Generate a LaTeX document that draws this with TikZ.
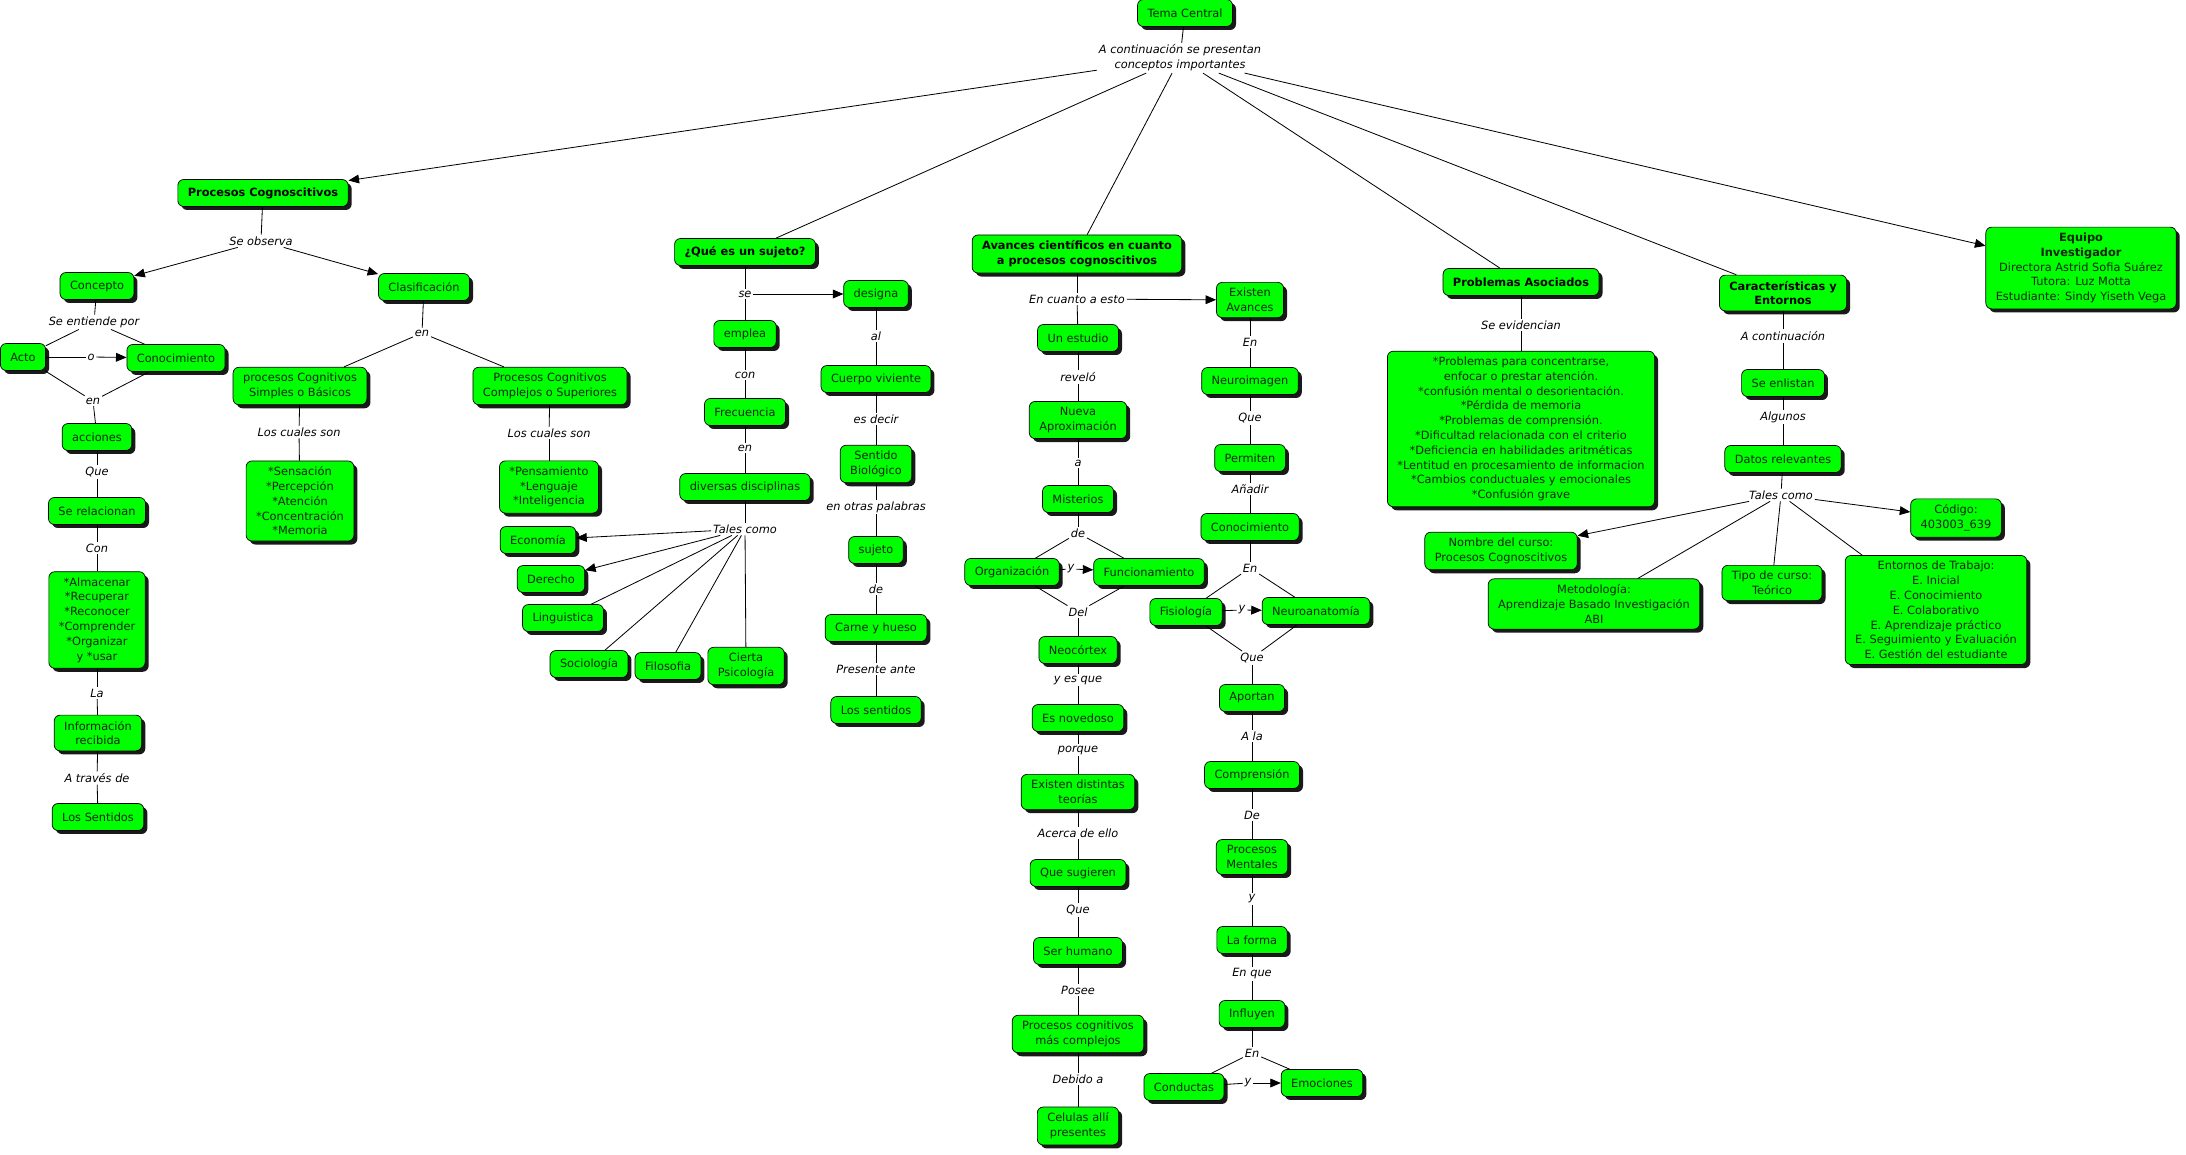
\documentclass[tikz,border=0pt]{standalone}
\usepackage{fontspec}
\setmainfont{DejaVu Sans}
\usetikzlibrary{arrows.meta,shadows}
\definecolor{cmgreen}{HTML}{00FF00}
\definecolor{ink}{HTML}{0D260D}
\tikzset{
  >={Triangle[length=9pt,width=7.5pt]},
  every node/.style={font=\fontsize{9.7}{12.6}\selectfont},
  concept/.style={draw=black,line width=0.6pt,rounded corners=5pt,fill=cmgreen,text=ink,align=center,inner xsep=8.5pt,inner ysep=5pt,minimum height=23pt,drop shadow={shadow xshift=3pt,shadow yshift=-3pt,fill=black!90,opacity=1}},
  topic/.style={concept,font=\fontsize{9.7}{12.6}\selectfont\bfseries,text=black},
  lphrase/.style={font=\fontsize{9.7}{12.6}\selectfont\itshape,text=black,align=center,inner sep=1.5pt},
  conn/.style={draw=black,line width=0.7pt},
  arr/.style={conn,->},
}

\begin{document}
\begin{tikzpicture}[x=0.03cm,y=-0.03cm]
\useasboundingbox (0,0) rectangle (2186,1155);

% top
\node[concept] (tema) at (1185,13) {Tema Central};
\node[lphrase] (lpTema) at (1180,58) {A continuación se presentan\\conceptos importantes};

% procesos cognoscitivos
\node[topic] (procog) at (263,193) {Procesos Cognoscitivos};
\node[lphrase] (lpObs) at (261,241) {Se observa};
\node[concept] (concepto) at (97,286) {Concepto};
\node[concept] (clasif) at (424,287) {Clasificación};
\node[lphrase] (lpEnt) at (94,322) {Se entiende por};
\node[concept] (acto) at (23,357) {Acto};
\node[concept] (conoc) at (176,358) {Conocimiento};
\node[lphrase] (lpO) at (91,357) {o};
\node[lphrase] (lpEn1) at (93,401) {en};
\node[concept] (acciones) at (97,437) {acciones};
\node[lphrase] (lpQue1) at (97,472) {Que};
\node[concept] (serel) at (97,511) {Se relacionan};
\node[lphrase] (lpCon) at (97,548) {Con};
\node[concept] (almac) at (97,620) {*Almacenar\\*Recuperar\\*Reconocer\\*Comprender\\*Organizar\\y *usar};
\node[lphrase] (lpLa) at (97,693) {La};
\node[concept] (info) at (98,733) {Información\\recibida};
\node[lphrase] (lpTraves) at (97,778) {A través de};
\node[concept] (sentidos) at (98,817) {Los Sentidos};
\node[lphrase] (lpEn2) at (422,333) {en};
\node[concept] (simples) at (300,386) {procesos Cognitivos\\Simples o Básicos};
\node[concept] (complejos) at (550,386) {Procesos Cognitivos\\Complejos o Superiores};
\node[lphrase] (lpCual1) at (299,432) {Los cuales son};
\node[concept] (sensac) at (300,501) {*Sensación\\*Percepción\\*Atención\\*Concentración\\*Memoria};
\node[lphrase] (lpCual2) at (549,433) {Los cuales son};
\node[concept] (pensam) at (549,487) {*Pensamiento\\*Lenguaje\\*Inteligencia};

% sujeto
\node[topic] (sujeto) at (745,252) {¿Qué es un sujeto?};
\node[lphrase] (lpSe) at (745,294) {se};
\node[concept] (designa) at (876,294) {designa};
\node[concept] (emplea) at (745,334) {emplea};
\node[lphrase] (lpConS) at (745,375) {con};
\node[concept] (frec) at (745,412) {Frecuencia};
\node[lphrase] (lpEnS) at (745,448) {en};
\node[concept] (divers) at (745,487) {diversas disciplinas};
\node[lphrase] (lpTales1) at (745,529) {Tales como};
\node[concept] (econ) at (538,540) {Economía};
\node[concept] (derecho) at (551,579) {Derecho};
\node[concept] (ling) at (563,618) {Linguistica};
\node[concept] (socio) at (589,664) {Sociología};
\node[concept] (filo) at (668,666) {Filosofia};
\node[concept] (psico) at (746,666) {Cierta\\Psicología};
\node[lphrase] (lpAl) at (876,336) {al};
\node[concept] (cuerpo) at (876,379) {Cuerpo viviente};
\node[lphrase] (lpDecir) at (876,419) {es decir};
\node[concept] (biolog) at (876,464) {Sentido\\Biológico};
\node[lphrase] (lpOtras) at (876,507) {en otras palabras};
\node[concept] (suj2) at (876,550) {sujeto};
\node[lphrase] (lpDe) at (876,589) {de};
\node[concept] (carne) at (876,628) {Carne y hueso};
\node[lphrase] (lpPres) at (876,669) {Presente ante};
\node[concept] (sentid2) at (876,710) {Los sentidos};

% avances
\node[topic] (avances) at (1077,254) {Avances científicos en cuanto\\a procesos cognoscitivos};
\node[lphrase] (lpCuanto) at (1077,299) {En cuanto a esto};
\node[concept] (existen) at (1250,300) {Existen\\Avances};
\node[concept] (estudio) at (1078,338) {Un estudio};
\node[lphrase] (lpRevelo) at (1078,377) {reveló};
\node[concept] (nueva) at (1078,420) {Nueva\\Aproximación};
\node[lphrase] (lpA) at (1078,463) {a};
\node[concept] (misterios) at (1078,499) {Misterios};
\node[lphrase] (lpDeM) at (1078,533) {de};
\node[concept] (organ) at (1012,572) {Organización};
\node[lphrase] (lpY1) at (1071,569) {y};
\node[concept] (funcion) at (1149,572) {Funcionamiento};
\node[lphrase] (lpDel) at (1078,612) {Del};
\node[concept] (neo) at (1078,650) {Neocórtex};
\node[lphrase] (lpEsque) at (1078,680) {y es que};
\node[concept] (noved) at (1078,718) {Es novedoso};
\node[lphrase] (lpPorque) at (1078,750) {porque};
\node[concept] (teorias) at (1078,792) {Existen distintas\\teorías};
\node[lphrase] (lpAcerca) at (1078,833) {Acerca de ello};
\node[concept] (sugieren) at (1078,873) {Que sugieren};
\node[lphrase] (lpQueS) at (1078,910) {Que};
\node[concept] (humano) at (1078,951) {Ser humano};
\node[lphrase] (lpPosee) at (1078,990) {Posee};
\node[concept] (complej2) at (1078,1034) {Procesos cognitivos\\más complejos};
\node[lphrase] (lpDebido) at (1078,1079) {Debido a};
\node[concept] (celulas) at (1078,1126) {Celulas allí\\presentes};
\node[lphrase] (lpEnA) at (1250,342) {En};
\node[concept] (neuroim) at (1250,381) {Neuroimagen};
\node[lphrase] (lpQueN) at (1250,418) {Que};
\node[concept] (permiten) at (1250,458) {Permiten};
\node[lphrase] (lpAnadir) at (1250,489) {Añadir};
\node[concept] (conoc2) at (1250,527) {Conocimiento};
\node[lphrase] (lpEnC) at (1250,568) {En};
\node[concept] (fisio) at (1186,612) {Fisiología};
\node[lphrase] (lpY2) at (1242,610) {y};
\node[concept] (neuroan) at (1316,611) {Neuroanatomía};
\node[lphrase] (lpQueF) at (1252,658) {Que};
\node[concept] (aportan) at (1252,698) {Aportan};
\node[lphrase] (lpAla) at (1252,736) {A la};
\node[concept] (compren) at (1252,775) {Comprensión};
\node[lphrase] (lpDeP) at (1252,815) {De};
\node[concept] (mentales) at (1252,857) {Procesos\\Mentales};
\node[lphrase] (lpYm) at (1252,899) {y};
\node[concept] (forma) at (1252,940) {La forma};
\node[lphrase] (lpEnque) at (1252,974) {En que};
\node[concept] (influyen) at (1252,1014) {Influyen};
\node[lphrase] (lpEnI) at (1252,1053) {En};
\node[concept] (conductas) at (1184,1087) {Conductas};
\node[lphrase] (lpY3) at (1248,1083) {y};
\node[concept] (emociones) at (1322,1083) {Emociones};

% problemas
\node[topic] (problemas) at (1521,282) {Problemas Asociados};
\node[lphrase] (lpEvid) at (1521,325) {Se evidencian};
\node[concept] (problist) at (1521,429) {*Problemas para concentrarse,\\enfocar o prestar atención.\\*confusión mental o desorientación.\\*Pérdida de memoria\\*Problemas de comprensión.\\*Dificultad relacionada con el criterio\\*Deficiencia en habilidades aritméticas\\*Lentitud en procesamiento de informacion\\*Cambios conductuales y emocionales\\*Confusión grave};

% caracteristicas
\node[topic] (caract) at (1783,293) {Características y\\Entornos};
\node[lphrase] (lpCont) at (1783,336) {A continuación};
\node[concept] (enlistan) at (1783,383) {Se enlistan};
\node[lphrase] (lpAlgunos) at (1783,417) {Algunos};
\node[concept] (datos) at (1783,459) {Datos relevantes};
\node[lphrase] (lpTales2) at (1781,495) {Tales como};
\node[concept] (nombre) at (1501,551) {Nombre del curso:\\Procesos Cognoscitivos};
\node[concept] (metod) at (1594,604) {Metodología:\\Aprendizaje Basado Investigación\\ABI};
\node[concept] (tipo) at (1772,583) {Tipo de curso:\\Teórico};
\node[concept] (entornos) at (1936,610) {Entornos de Trabajo:\\E. Inicial\\E. Conocimiento\\E. Colaborativo\\E. Aprendizaje práctico\\E. Seguimiento y Evaluación\\E. Gestión del estudiante};
\node[concept] (codigo) at (1956,518) {Código:\\403003\_639};

% equipo
\node[concept] (equipo) at (2081,268) {\textbf{Equipo}\\\textbf{Investigador}\\Directora Astrid Sofia Suárez\\Tutora: Luz Motta\\Estudiante: Sindy Yiseth Vega};

% plain links
\foreach \a/\b in {tema/lpTema,lpTema/sujeto,lpTema/avances,lpTema/problemas,lpTema/caract,
  procog/lpObs,concepto/lpEnt,lpEnt/acto,lpEnt/conoc,acto/lpO,acto/lpEn1,conoc/lpEn1,lpEn1/acciones,
  acciones/lpQue1,lpQue1/serel,serel/lpCon,lpCon/almac,almac/lpLa,lpLa/info,info/lpTraves,lpTraves/sentidos,
  clasif/lpEn2,lpEn2/simples,lpEn2/complejos,simples/lpCual1,lpCual1/sensac,complejos/lpCual2,lpCual2/pensam,
  sujeto/lpSe,lpSe/emplea,emplea/lpConS,lpConS/frec,frec/lpEnS,lpEnS/divers,divers/lpTales1,
  lpTales1/ling,lpTales1/socio,lpTales1/filo,lpTales1/psico,
  designa/lpAl,lpAl/cuerpo,cuerpo/lpDecir,lpDecir/biolog,biolog/lpOtras,lpOtras/suj2,suj2/lpDe,lpDe/carne,carne/lpPres,lpPres/sentid2,
  avances/lpCuanto,lpCuanto/estudio,estudio/lpRevelo,lpRevelo/nueva,nueva/lpA,lpA/misterios,misterios/lpDeM,
  lpDeM/organ,lpDeM/funcion,organ/lpY1,organ/lpDel,funcion/lpDel,lpDel/neo,
  neo/lpEsque,lpEsque/noved,noved/lpPorque,lpPorque/teorias,teorias/lpAcerca,lpAcerca/sugieren,
  sugieren/lpQueS,lpQueS/humano,humano/lpPosee,lpPosee/complej2,complej2/lpDebido,lpDebido/celulas,
  existen/lpEnA,lpEnA/neuroim,neuroim/lpQueN,lpQueN/permiten,permiten/lpAnadir,lpAnadir/conoc2,conoc2/lpEnC,
  lpEnC/fisio,lpEnC/neuroan,fisio/lpY2,fisio/lpQueF,neuroan/lpQueF,lpQueF/aportan,
  aportan/lpAla,lpAla/compren,compren/lpDeP,lpDeP/mentales,mentales/lpYm,lpYm/forma,forma/lpEnque,lpEnque/influyen,influyen/lpEnI,
  lpEnI/conductas,lpEnI/emociones,conductas/lpY3,
  problemas/lpEvid,lpEvid/problist,
  caract/lpCont,lpCont/enlistan,enlistan/lpAlgunos,lpAlgunos/datos,datos/lpTales2,
  lpTales2/metod,lpTales2/tipo,lpTales2/entornos}
  {\draw[conn] (\a) -- (\b);}

% arrows
\foreach \a/\b in {lpTema/procog,lpTema/equipo,lpObs/concepto,lpObs/clasif,lpO/conoc,
  lpSe/designa,lpTales1/econ,lpTales1/derecho,lpCuanto/existen,lpY1/funcion,lpY2/neuroan,lpY3/emociones,
  lpTales2/nombre,lpTales2/codigo}
  {\draw[arr] (\a) -- (\b);}

\end{tikzpicture}
\end{document}
